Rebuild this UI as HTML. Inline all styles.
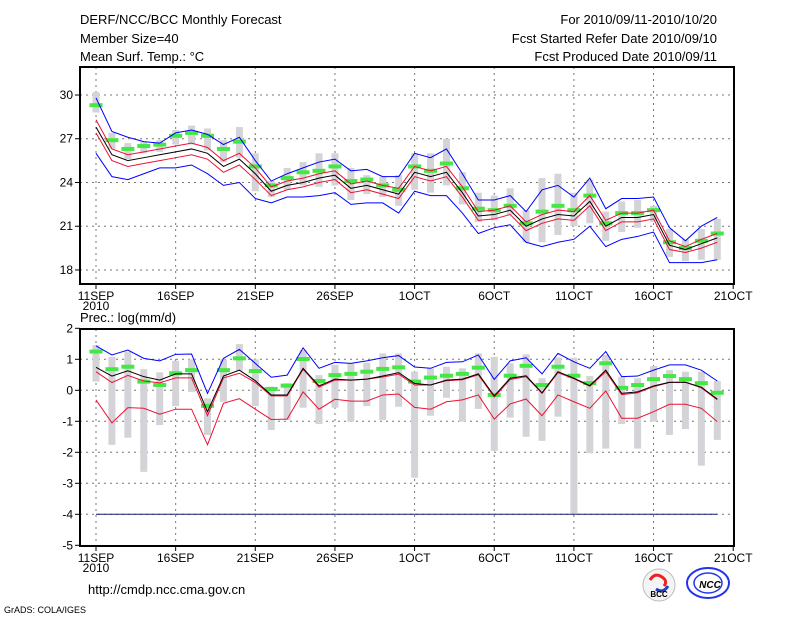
<!DOCTYPE html>
<html><head><meta charset="utf-8"><style>
body{margin:0;background:#fff;width:800px;height:618px;overflow:hidden}
svg{display:block}
text{font-family:"Liberation Sans",sans-serif;fill:#000}
</style></head><body>
<svg id="chart" width="800" height="618" xmlns="http://www.w3.org/2000/svg">
<text x="80" y="24" font-size="13">DERF/NCC/BCC Monthly Forecast</text>
<text x="80" y="43" font-size="13">Member Size=40</text>
<text x="80" y="61" font-size="13">Mean Surf. Temp.: °C</text>
<text x="717" y="24" font-size="13" text-anchor="end">For 2010/09/11-2010/10/20</text>
<text x="717" y="43" font-size="13" text-anchor="end">Fcst Started Refer Date 2010/09/10</text>
<text x="717" y="61" font-size="13" text-anchor="end">Fcst Produced Date 2010/09/11</text>
<text x="80" y="322" font-size="13">Prec.: log(mm/d)</text>
<text x="88" y="594" font-size="13">http://cmdp.ncc.cma.gov.cn</text>
<text x="4" y="613" font-size="9">GrADS: COLA/IGES</text>
<g>
<circle cx="659" cy="585" r="16" fill="#f4f4f4" stroke="#bbb"/>
<path d="M650 580 q5 -8 12 -3 q6 4 2 9" fill="none" stroke="#e22" stroke-width="3"/>
<path d="M668 586 q-5 8 -12 3" fill="none" stroke="#2340c0" stroke-width="3"/>
<text x="659" y="597" font-size="8" font-weight="bold" text-anchor="middle" fill="#333">BCC</text>
</g>
<g>
<ellipse cx="708" cy="583" rx="21" ry="15" fill="none" stroke="#2233ee" stroke-width="2"/>
<ellipse cx="708" cy="583" rx="14" ry="10" fill="none" stroke="#2233ee" stroke-width="1.5"/>
<text x="710" y="588" font-size="10" font-weight="bold" font-style="italic" text-anchor="middle" fill="#2233ee">NCC</text>
</g>
<g id="top"></g>
<g id="bot"></g>
</svg>
<script>
const days = 40;
const xLabels = ["11SEP","16SEP","21SEP","26SEP","1OCT","6OCT","11OCT","16OCT","21OCT"];
const tTicks = [18,21,24,27,30];
const pTicks = [-5,-4,-3,-2,-1,0,1,2];
const tMean = [27.8,25.9,25.5,25.7,25.9,26.1,26.3,26.0,25.1,25.6,24.6,23.4,23.8,24.0,24.3,24.5,23.6,23.8,23.5,23.2,24.7,24.4,24.7,23.3,21.7,21.8,22.1,21.0,21.5,21.8,21.7,22.7,21.0,21.6,21.6,21.8,19.7,19.4,19.8,20.2];
const tRedHi = [28.3,26.3,25.9,26.1,26.3,26.5,26.7,26.4,25.5,26.0,25.0,23.7,24.1,24.3,24.6,24.8,23.9,24.1,23.8,23.6,25.1,24.8,25.1,23.7,22.0,22.1,22.4,21.3,21.8,22.1,22.0,23.1,21.4,21.9,21.9,22.1,20.0,19.6,20.1,20.5];
const tRedLo = [27.4,25.5,25.1,25.3,25.5,25.7,25.9,25.6,24.7,25.2,24.2,23.1,23.5,23.7,24.0,24.2,23.3,23.5,23.2,22.9,24.4,24.1,24.4,23.0,21.4,21.5,21.8,20.7,21.2,21.5,21.4,22.4,20.7,21.3,21.3,21.5,19.4,19.2,19.5,19.9];
const tBlueHi = [29.8,27.5,27.1,26.8,26.7,27.4,27.6,27.3,26.6,27.1,25.5,24.1,24.6,25.0,25.4,25.6,24.8,24.9,24.4,24.4,26.0,25.7,26.3,24.6,22.8,22.8,23.1,22.0,23.5,23.8,23.0,24.3,22.2,22.9,22.9,23.0,20.9,20.0,21.0,21.6];
const tBlueLo = [26.0,24.4,24.2,24.6,25.0,25.0,25.2,24.6,23.8,24.0,22.9,22.6,23.0,23.0,23.1,23.3,22.5,22.6,22.6,21.9,23.4,23.1,23.1,21.9,20.5,20.9,21.1,19.9,19.6,19.9,20.1,21.0,19.6,20.1,20.3,20.6,18.5,18.5,18.5,18.7];
const tGreen = [29.3,26.9,26.3,26.5,26.6,27.2,27.4,27.2,26.3,26.8,25.1,23.8,24.3,24.7,24.8,25.1,24.1,24.2,23.8,23.5,25.1,24.8,25.3,23.6,22.2,22.1,22.4,21.2,22.0,22.4,22.1,23.1,21.2,21.9,21.9,22.1,19.9,19.5,20.0,20.5];
const tBarHi = [30.2,27.4,26.7,26.8,26.9,27.6,27.9,27.7,26.9,27.8,26.0,24.1,25.0,25.4,26.0,26.0,25.0,24.5,24.4,24.5,26.0,26.0,27.0,24.7,23.3,23.1,23.6,22.1,24.3,24.6,23.3,24.2,22.0,22.7,22.8,22.4,20.8,20.1,20.8,21.5];
const tBarLo = [28.8,26.3,25.6,26.0,26.1,26.6,26.6,26.2,25.4,25.7,23.4,23.0,23.5,23.8,23.7,23.8,22.8,23.2,23.0,22.4,23.5,23.3,23.8,22.5,21.3,21.4,21.8,19.9,19.9,20.4,21.0,21.2,20.0,20.6,20.9,21.3,18.9,18.6,18.7,18.7];
const pMean = [0.74,0.46,0.63,0.44,0.33,0.53,0.53,-0.69,0.46,0.65,0.31,-0.15,-0.15,0.71,0.14,0.36,0.33,0.36,0.46,0.57,0.22,0.17,0.33,0.36,0.53,-0.18,0.39,0.47,-0.08,0.60,0.39,0.15,0.65,-0.10,-0.05,0.14,0.26,0.26,0.10,-0.28];
const pRedHi = [0.60,0.25,0.48,0.30,0.24,0.40,0.40,-0.82,0.40,0.55,0.25,-0.18,-0.18,0.68,0.10,0.33,0.33,0.36,0.43,0.52,0.17,0.17,0.31,0.34,0.50,-0.22,0.35,0.44,-0.10,0.57,0.37,0.13,0.60,-0.14,-0.08,0.12,0.25,0.26,0.08,-0.31];
const pRedLo = [-0.31,-1.05,-0.56,-0.58,-0.77,-0.61,-0.61,-1.76,-0.42,-0.27,-0.61,-0.94,-0.93,-0.05,-0.61,-0.29,-0.35,-0.35,-0.15,-0.12,-0.55,-0.61,-0.37,-0.31,-0.15,-0.93,-0.44,-0.28,-0.82,-0.15,-0.37,-0.58,-0.02,-0.90,-0.90,-0.69,-0.45,-0.45,-0.58,-1.01];
const pBlue = [1.43,1.14,1.30,1.03,0.95,1.16,1.17,-0.10,1.03,1.32,0.87,0.42,0.49,1.37,0.71,0.90,0.87,0.95,1.05,1.12,0.75,0.71,0.90,0.92,1.14,0.35,0.95,1.05,0.53,1.19,0.92,0.71,1.25,0.44,0.46,0.65,0.82,0.82,0.65,0.30];
const pGreen = [1.25,0.68,0.76,0.28,0.17,0.55,0.65,-0.50,0.65,1.03,0.62,0.04,0.15,1.01,0.30,0.49,0.53,0.60,0.69,0.74,0.28,0.41,0.47,0.53,0.73,-0.15,0.47,0.79,0.17,0.76,0.47,0.23,0.87,0.08,0.17,0.36,0.46,0.36,0.23,-0.08];
const pBarHi = [1.46,1.08,1.25,0.68,0.58,0.95,1.00,-0.26,1.00,1.49,1.00,0.12,0.23,1.30,0.49,0.82,0.87,0.89,1.19,1.19,0.60,0.71,0.76,0.71,1.19,1.08,0.87,1.16,0.39,1.06,1.05,0.46,1.14,0.44,0.39,0.78,0.65,0.60,0.60,0.30];
const pBarLo = [0.28,-1.76,-1.53,-2.63,-1.12,-0.51,-0.05,-1.44,-0.37,0.63,-0.51,-1.28,-0.96,-0.56,-1.09,-0.56,-1.01,-0.51,-0.96,-0.53,-2.82,-0.82,-0.24,-1.01,-0.60,-1.95,-0.88,-1.50,-1.63,-0.85,-3.97,-2.03,-1.88,-1.09,-1.88,-1.01,-1.44,-1.25,-2.43,-1.60];
const pRef = [-4];

const NS="http://www.w3.org/2000/svg";
const X0=80, X1=734;
const xDay = i => 96 + 15.93*i;
const yT = v => 95 + (30 - v)*14.58;
const yP = v => 390.3 - 31*v;
function mk(parent, tag, attrs){const e=document.createElementNS(NS,tag);for(const k in attrs)e.setAttribute(k,attrs[k]);parent.appendChild(e);return e;}

function panel(g, top, bottom, ticks, yf, prefix){
  ticks.forEach(t=>{
    const y=yf(t);
    if (y>top+1 && y<bottom-1){
      const gl=mk(g,'line',{x1:X0,x2:X1,y1:y,y2:y,stroke:'#777','stroke-dasharray':'2,4'});
      
      
    }
    mk(g,'line',{x1:X0-5,x2:X0,y1:y,y2:y,stroke:'#000'});
    const tx=mk(g,'text',{x:X0-7,y:y+4,'font-size':12,'text-anchor':'end'});
    tx.textContent=t;
    
    
  });
  xLabels.forEach((l,k)=>{
    const x=xDay(k*5);
    if (x<X1-2){
      const gl=mk(g,'line',{x1:x,x2:x,y1:top,y2:bottom,stroke:'#777','stroke-dasharray':'2,4'});
      
      
    }
    mk(g,'line',{x1:x,x2:x,y1:bottom,y2:bottom+5,stroke:'#000'});
    const tx=mk(g,'text',{x:x,y:bottom+16,'font-size':12,'text-anchor':'middle'});
    tx.textContent=l;
    
    
  });
  const yr=mk(g,'text',{x:xDay(0),y:bottom+26,'font-size':12,'text-anchor':'middle'});
  yr.textContent='2010';
  
  
}
function bars(g,hi,lo,yf,prefix){
  hi.forEach((h,i)=>{
    const y1=yf(h), y2=yf(lo[i]);
    const r=mk(g,'rect',{x:xDay(i)-3.5,y:y1,width:7,height:Math.max(1,y2-y1),fill:'#d3d3d8'});
    
    
  });
}
function line(g,vals,yf,color,name,w){
  const p=mk(g,'polyline',{points:vals.map((v,i)=>xDay(i)+','+yf(v)).join(' '),fill:'none',stroke:color,'stroke-width':w||1});
  
  
}
function marks(g,vals,yf,prefix){
  vals.forEach((v,i)=>{
    const r=mk(g,'rect',{x:xDay(i)-6.5,y:yf(v)-2,width:13,height:4,fill:'#44e844'});
    
    
  });
}
function frame(g,top,bottom,prefix){
  const r=mk(g,'rect',{x:X0,y:top,width:X1-X0,height:bottom-top,fill:'none',stroke:'#000','stroke-width':2});
  
  
}

const gt=document.getElementById('top');


panel(gt,67,284,tTicks,yT,'temp');
bars(gt,tBarHi,tBarLo,yT,'temp');
marks(gt,tGreen,yT,'temp');
line(gt,tBlueHi,yT,'#0000ff','temp-blue-upper');
line(gt,tBlueLo,yT,'#0000ff','temp-blue-lower');
line(gt,tRedHi,yT,'#ee1133','temp-red-upper');
line(gt,tRedLo,yT,'#ee1133','temp-red-lower');
line(gt,tMean,yT,'#000','temp-ensemble-mean');
frame(gt,67,284,'temp');

const gb=document.getElementById('bot');


panel(gb,329,546,pTicks,yP,'precip');
bars(gb,pBarHi,pBarLo,yP,'precip');
marks(gb,pGreen,yP,'precip');
pRef.forEach(v=>{
  const l=mk(gb,'line',{x1:xDay(0),x2:xDay(days-1),y1:yP(v),y2:yP(v),stroke:'#1a1a70'});
  
  
});
line(gb,pBlue,yP,'#0000ff','precip-blue-upper');
line(gb,pRedLo,yP,'#ee1133','precip-red-lower');
line(gb,pRedHi,yP,'#ee1133','precip-red-upper');
line(gb,pMean,yP,'#000','precip-ensemble-mean');
frame(gb,329,546,'precip');
</script>
</body></html>
